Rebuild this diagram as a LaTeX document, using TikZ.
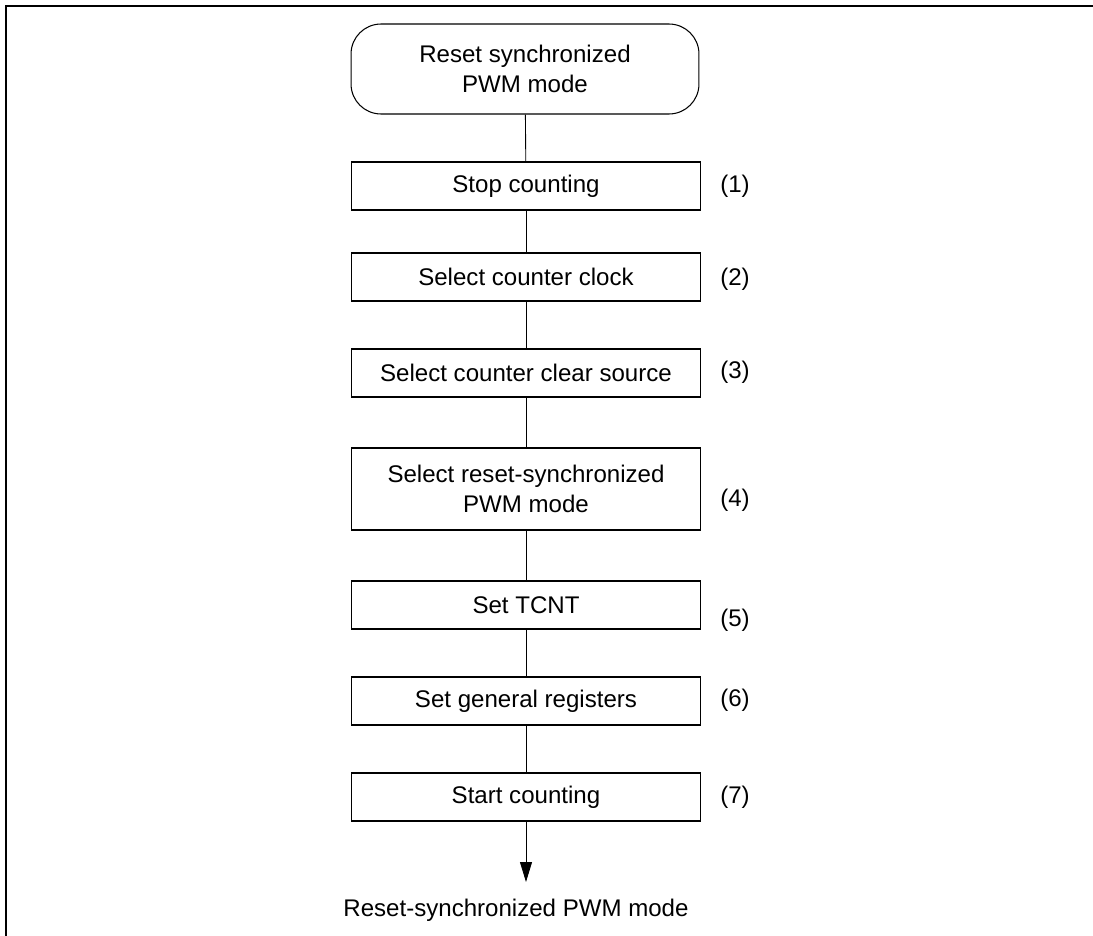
\documentclass[tikz,border=0pt]{standalone}
\usepackage{fontspec}
\setmainfont{Liberation Sans}
\usetikzlibrary{arrows.meta}

\begin{document}
\begin{tikzpicture}[x=0.02cm,y=-0.02cm,>={Triangle[width=0.24cm,length=0.4cm]},
    every node/.style={font=\fontsize{13.7}{17}\selectfont},
    stepbox/.style={draw,line width=0.6pt,minimum width=7cm,minimum height=0.96cm,align=center,inner sep=0pt},
    termbox/.style={draw,line width=0.6pt,rounded corners=0.6cm,minimum width=6.96cm,minimum height=1.8cm,align=center},
    flowline/.style={line width=0.5pt}]
        % --- 1. Page and frame ---
        \useasboundingbox (0,0) rectangle (1093,936);
        \draw[line width=1.1pt] (6,936) -- (6,6) -- (1093,6);

        % --- 2. Terminal and steps ---
        \node[termbox] (start) at (525,69) {Reset synchronized\\PWM mode};
        \node[stepbox] (s1) at (526,186) {Stop counting};
        \node[stepbox] (s2) at (526,277) {Select counter clock};
        \node[stepbox] (s3) at (526,373) {Select counter clear source};
        \node[stepbox,minimum height=1.64cm] (s4) at (526,489) {Select reset-synchronized\\PWM mode};
        \node[stepbox] (s5) at (526,605) {Set TCNT};
        \node[stepbox] (s6) at (526,701) {Set general registers};
        \node[stepbox] (s7) at (526,797) {Start counting};

        % --- 3. Step numbers ---
        \node (n1) at (735,186) {(1)};
        \node (n2) at (735,279) {(2)};
        \node (n3) at (735,372) {(3)};
        \node (n4) at (735,500) {(4)};
        \node (n5) at (735,620) {(5)};
        \node (n6) at (735,700) {(6)};
        \node (n7) at (735,797) {(7)};

        % --- 4. Connectors ---
        \draw[flowline] (start) -- (s1);
        \draw[flowline] (s1) -- (s2);
        \draw[flowline] (s2) -- (s3);
        \draw[flowline] (s3) -- (s4);
        \draw[flowline] (s4) -- (s5);
        \draw[flowline] (s5) -- (s6);
        \draw[flowline] (s6) -- (s7);

        % --- 5. Exit ---
        \coordinate (tip) at (526,882);
        \draw[flowline,->] (s7) -- (tip);
        \node (exit) at (516,910) {Reset-synchronized PWM mode};

    \end{tikzpicture}
\end{document}
